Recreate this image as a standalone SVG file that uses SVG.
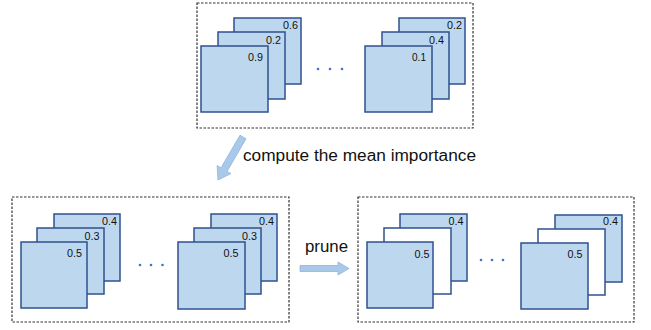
<svg xmlns="http://www.w3.org/2000/svg" width="651" height="330" viewBox="0 0 651 330">
<defs>
<style>
.frame{fill:none;stroke:#333;stroke-width:1.2;stroke-dasharray:2.5 1.5}
.sq{fill:#BDD7EE;stroke:#2F528F;stroke-width:1.5}
.wh{fill:#FFFFFF;stroke:#2F528F;stroke-width:1.5}
.lb{font-family:"Liberation Sans",Arial,sans-serif;font-size:11.5px;fill:#111;text-anchor:end}
.tx{font-family:"Liberation Sans",Arial,sans-serif;font-size:16px;fill:#111}
.dot{fill:#4472C4}
.arr{fill:#A9C9EA;stroke:#8FB4DE;stroke-width:0.8}
</style>
</defs>
<rect width="651" height="330" fill="#fff"/>

<g id="top-group">
<rect class="frame" x="197" y="3" width="276" height="125"/>
<g id="top-stack-1">
<rect class="sq" x="234" y="18" width="67" height="66"/>
<text class="lb" x="298" y="29" textLength="15" lengthAdjust="spacingAndGlyphs">0.6</text>
<rect class="sq" x="218" y="32" width="67" height="67"/>
<text class="lb" x="281" y="44" textLength="15" lengthAdjust="spacingAndGlyphs">0.2</text>
<rect class="sq" x="201" y="46" width="67" height="66"/>
<text class="lb" x="263" y="61" textLength="15" lengthAdjust="spacingAndGlyphs">0.9</text>
</g>
<g id="top-dots">
<circle class="dot" cx="318" cy="69" r="1.3"/>
<circle class="dot" cx="330" cy="69" r="1.3"/>
<circle class="dot" cx="342" cy="69" r="1.3"/>
</g>
<g id="top-stack-2">
<rect class="sq" x="399" y="18" width="66" height="66"/>
<text class="lb" x="462" y="29" textLength="15" lengthAdjust="spacingAndGlyphs">0.2</text>
<rect class="sq" x="382" y="32" width="67" height="67"/>
<text class="lb" x="444" y="44" textLength="15" lengthAdjust="spacingAndGlyphs">0.4</text>
<rect class="sq" x="365" y="46" width="67" height="66"/>
<text class="lb" x="426" y="61" textLength="14" lengthAdjust="spacingAndGlyphs">0.1</text>
</g>
</g>

<g id="mid-group">
<rect class="frame" x="12" y="197" width="277" height="125"/>
<g id="mid-stack-1">
<rect class="sq" x="54" y="214" width="66" height="67"/>
<text class="lb" x="117" y="225" textLength="15" lengthAdjust="spacingAndGlyphs">0.4</text>
<rect class="sq" x="37" y="228" width="67" height="66"/>
<text class="lb" x="99.5" y="240" textLength="15" lengthAdjust="spacingAndGlyphs">0.3</text>
<rect class="sq" x="21" y="242" width="66" height="66"/>
<text class="lb" x="82" y="256.5" textLength="15" lengthAdjust="spacingAndGlyphs">0.5</text>
</g>
<g id="mid-dots">
<circle class="dot" cx="140" cy="265" r="1.3"/>
<circle class="dot" cx="151" cy="265" r="1.3"/>
<circle class="dot" cx="162.5" cy="265" r="1.3"/>
</g>
<g id="mid-stack-2">
<rect class="sq" x="211" y="214" width="66" height="67"/>
<text class="lb" x="274" y="225" textLength="15" lengthAdjust="spacingAndGlyphs">0.4</text>
<rect class="sq" x="194" y="228" width="67" height="66"/>
<text class="lb" x="257" y="240" textLength="15" lengthAdjust="spacingAndGlyphs">0.3</text>
<rect class="sq" x="178" y="242" width="67" height="67"/>
<text class="lb" x="238.5" y="257" textLength="15" lengthAdjust="spacingAndGlyphs">0.5</text>
</g>
</g>

<g id="pruned-group">
<rect class="frame" x="358" y="197" width="276" height="125"/>
<g id="pruned-stack-1">
<rect class="sq" x="400" y="214" width="67" height="67"/>
<text class="lb" x="463.5" y="224.5" textLength="15" lengthAdjust="spacingAndGlyphs">0.4</text>
<rect class="wh" x="384" y="228" width="67" height="66"/>
<rect class="sq" x="367" y="242" width="66" height="66"/>
<text class="lb" x="429.5" y="257.5" textLength="15" lengthAdjust="spacingAndGlyphs">0.5</text>
</g>
<g id="pruned-dots">
<circle class="dot" cx="481" cy="260" r="1.3"/>
<circle class="dot" cx="492" cy="260" r="1.3"/>
<circle class="dot" cx="503" cy="260" r="1.3"/>
</g>
<g id="pruned-stack-2">
<rect class="sq" x="555" y="215" width="67" height="67"/>
<text class="lb" x="618" y="225" textLength="15" lengthAdjust="spacingAndGlyphs">0.4</text>
<rect class="wh" x="538" y="229" width="67" height="66"/>
<rect class="sq" x="521" y="243" width="67" height="66"/>
<text class="lb" x="582.5" y="257.5" textLength="15" lengthAdjust="spacingAndGlyphs">0.5</text>
</g>
</g>

<g id="connectors">
<polygon class="arr" points="246,138.8 227.1,171.4 230.9,173.6 218,180 217.1,165.6 221,167.8 240,135.2"/>
<text class="tx" x="243" y="161" textLength="233" lengthAdjust="spacingAndGlyphs">compute the mean importance</text>
<polygon class="arr" points="300,265.5 338,265.5 338,262 349,268.5 338,275 338,271.5 300,271.5"/>
<text class="tx" x="305" y="252" textLength="43" lengthAdjust="spacingAndGlyphs">prune</text>
</g>
</svg>
